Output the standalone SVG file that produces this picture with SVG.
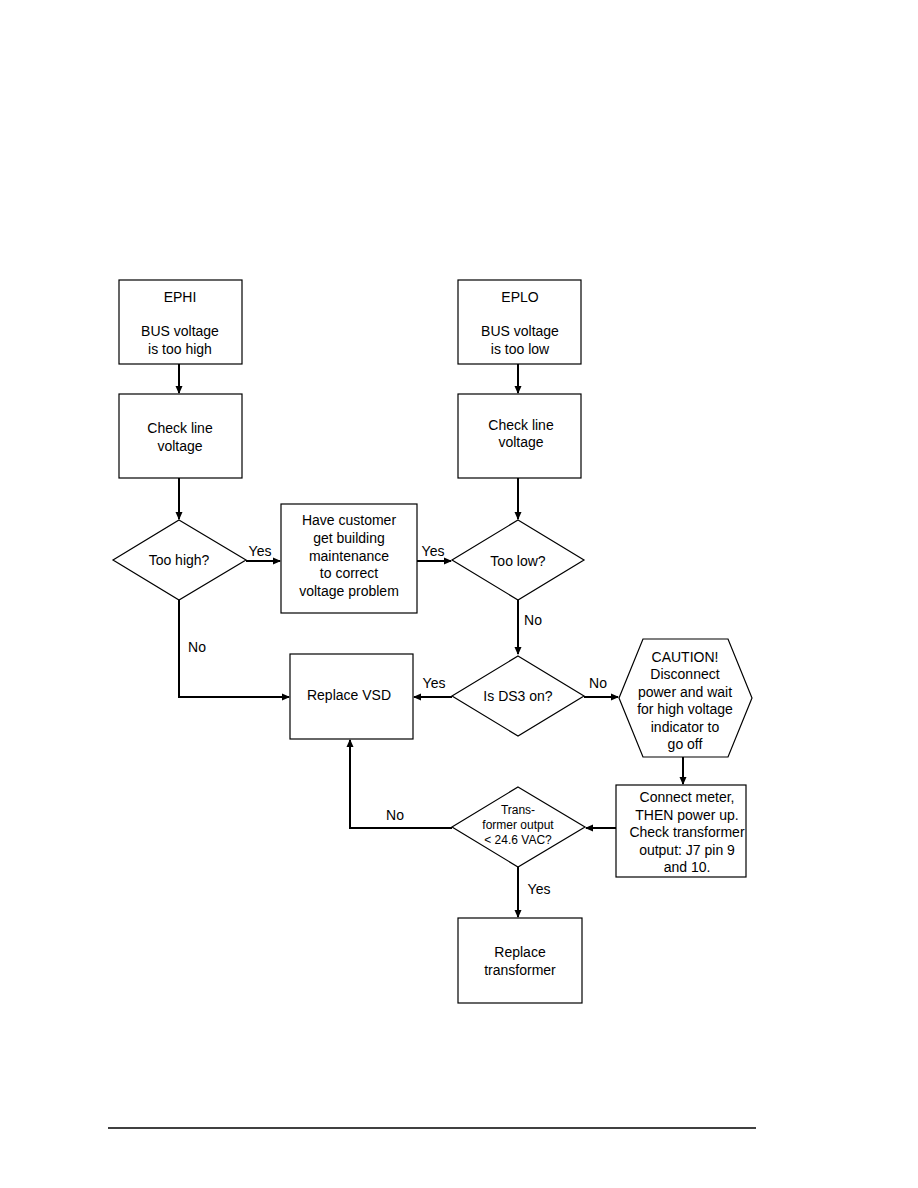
<svg xmlns="http://www.w3.org/2000/svg" width="918" height="1188" viewBox="0 0 918 1188">
<style>
.n{fill:#fff;stroke:#000;stroke-width:1.2}
.t{font-family:"Liberation Sans",Arial,sans-serif;font-size:14px;text-anchor:middle;fill:#000}
.s{font-size:12px}
.c{fill:none;stroke:#000;stroke-width:2}
</style>
<defs>
<marker id="a" markerWidth="8" markerHeight="8" refX="7" refY="4" orient="auto" markerUnits="userSpaceOnUse">
<path d="M0,0.5 L8,4 L0,7.5 Z" fill="#000"/>
</marker>
</defs>
<rect width="918" height="1188" fill="#fff"/>
<g id="connectors">
<path class="c" d="M179,364 V393" marker-end="url(#a)"/>
<path class="c" d="M518,364 V393" marker-end="url(#a)"/>
<path class="c" d="M179,478 V519" marker-end="url(#a)"/>
<path class="c" d="M518,478 V519" marker-end="url(#a)"/>
<path class="c" d="M246,561 H280" marker-end="url(#a)"/>
<path class="c" d="M417,561 H451" marker-end="url(#a)"/>
<path class="c" d="M179,600 V697 H289" marker-end="url(#a)"/>
<path class="c" d="M518,600 V654" marker-end="url(#a)"/>
<path class="c" d="M452,697 H414" marker-end="url(#a)"/>
<path class="c" d="M584,697 H618" marker-end="url(#a)"/>
<path class="c" d="M683,757 V784" marker-end="url(#a)"/>
<path class="c" d="M616,828 H586" marker-end="url(#a)"/>
<path class="c" d="M452,828 H350 V740" marker-end="url(#a)"/>
<path class="c" d="M518,867 V917" marker-end="url(#a)"/>
<text class="t" x="260" y="556">Yes</text>
<text class="t" x="433" y="556">Yes</text>
<text class="t" x="197" y="652">No</text>
<text class="t" x="533" y="625">No</text>
<text class="t" x="434" y="688">Yes</text>
<text class="t" x="598" y="688">No</text>
<text class="t" x="395" y="820">No</text>
<text class="t" x="539" y="894">Yes</text>
</g>
<g id="ephi">
<rect class="n" x="119" y="280" width="123" height="84"/>
<text class="t" x="180" y="302">EPHI</text>
<text class="t" x="180" y="336">BUS voltage</text>
<text class="t" x="180" y="354">is too high</text>
</g>
<g id="eplo">
<rect class="n" x="458" y="280" width="123" height="84"/>
<text class="t" x="520" y="302">EPLO</text>
<text class="t" x="520" y="336">BUS voltage</text>
<text class="t" x="520" y="354">is too low</text>
</g>
<g id="check-left">
<rect class="n" x="119" y="394" width="123" height="84"/>
<text class="t" x="180" y="433">Check line</text>
<text class="t" x="180" y="451">voltage</text>
</g>
<g id="check-right">
<rect class="n" x="458" y="394" width="123" height="84"/>
<text class="t" x="521" y="430">Check line</text>
<text class="t" x="521" y="447">voltage</text>
</g>
<g id="too-high">
<polygon class="n" points="179,520 246,560 179,600 113,560"/>
<text class="t" x="179" y="565">Too high?</text>
</g>
<g id="have-customer">
<rect class="n" x="281" y="504" width="136" height="109"/>
<text class="t" x="349" y="525">Have customer</text>
<text class="t" x="349" y="543">get building</text>
<text class="t" x="349" y="561">maintenance</text>
<text class="t" x="349" y="578">to correct</text>
<text class="t" x="349" y="596">voltage problem</text>
</g>
<g id="too-low">
<polygon class="n" points="518,520 584,560 518,600 452,560"/>
<text class="t" x="518" y="566">Too low?</text>
</g>
<g id="replace-vsd">
<rect class="n" x="290" y="654" width="123" height="85"/>
<text class="t" x="349" y="700">Replace VSD</text>
</g>
<g id="ds3">
<polygon class="n" points="518,656 584,696 518,736 452,696"/>
<text class="t" x="518" y="701">Is DS3 on?</text>
</g>
<g id="caution">
<polygon class="n" points="643,639 728,639 752,698 728,757 643,757 619,698"/>
<text class="t" x="685" y="662">CAUTION!</text>
<text class="t" x="685" y="679">Disconnect</text>
<text class="t" x="685" y="697">power and wait</text>
<text class="t" x="685" y="714">for high voltage</text>
<text class="t" x="685" y="732">indicator to</text>
<text class="t" x="685" y="749">go off</text>
</g>
<g id="connect-meter">
<rect class="n" x="616" y="785" width="130" height="92"/>
<text class="t" x="687" y="802">Connect meter,</text>
<text class="t" x="687" y="820">THEN power up.</text>
<text class="t" x="687" y="837">Check transformer</text>
<text class="t" x="687" y="855">output: J7 pin 9</text>
<text class="t" x="687" y="872">and 10.</text>
</g>
<g id="transformer-output">
<polygon class="n" points="518,787 585,827 518,867 452,827"/>
<text class="t s" x="518" y="814">Trans-</text>
<text class="t s" x="518" y="829">former output</text>
<text class="t s" x="518" y="844">&lt; 24.6 VAC?</text>
</g>
<g id="replace-transformer">
<rect class="n" x="458" y="918" width="124" height="85"/>
<text class="t" x="520" y="957">Replace</text>
<text class="t" x="520" y="975">transformer</text>
</g>
<line x1="108" y1="1128" x2="756" y2="1128" stroke="#000" stroke-width="1.5"/>
</svg>
